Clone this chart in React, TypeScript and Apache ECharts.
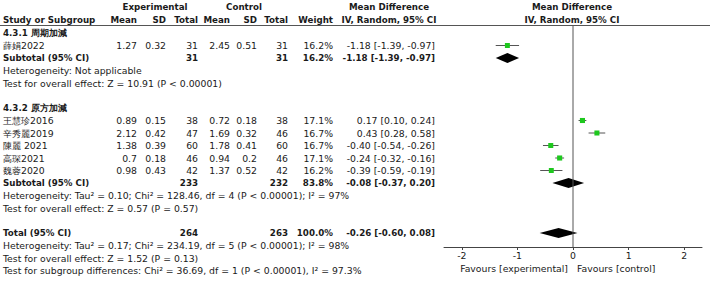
import React, { useEffect, useRef } from "react";
import * as echarts from "echarts";

// ---------- data ----------
const subgroupTitles = ["4.3.1 周期加減", "4.3.2 原方加減"];
const subgroupStudies = [[0], [1, 2, 3, 4, 5]];

const studyNames = ["薛娟2022", "王慧珍2016", "辛秀麗2019", "陳麗 2021", "高琛2021", "魏蓉2020"];
const expMean = ["1.27", "0.89", "2.12", "1.38", "0.7", "0.98"];
const expSD = ["0.32", "0.15", "0.42", "0.39", "0.18", "0.43"];
const expN = [31, 38, 47, 60, 46, 42];
const ctlMean = ["2.45", "0.72", "1.69", "1.78", "0.94", "1.37"];
const ctlSD = ["0.51", "0.18", "0.32", "0.41", "0.2", "0.52"];
const ctlN = [31, 38, 46, 60, 46, 42];
const weights = [16.2, 17.1, 16.7, 16.7, 17.1, 16.2];
const md = [-1.18, 0.17, 0.43, -0.4, -0.24, -0.39];
const mdLo = [-1.39, 0.1, 0.28, -0.54, -0.32, -0.59];
const mdHi = [-0.97, 0.24, 0.58, -0.26, -0.16, -0.19];

const subExpN = [31, 233];
const subCtlN = [31, 232];
const subWeight = [16.2, 83.8];
const subMd = [-1.18, -0.08];
const subLo = [-1.39, -0.37];
const subHi = [-0.97, 0.2];
const subHet = [
  "Heterogeneity: Not applicable",
  "Heterogeneity: Tau² = 0.10; Chi² = 128.46, df = 4 (P < 0.00001); I² = 97%",
];
const subOverall = [
  "Test for overall effect: Z = 10.91 (P < 0.00001)",
  "Test for overall effect: Z = 0.57 (P = 0.57)",
];

const totalExpN = 264;
const totalCtlN = 263;
const totalWeight = 100.0;
const totalMd = -0.26;
const totalLo = -0.6;
const totalHi = 0.08;
const totalNotes = [
  "Heterogeneity: Tau² = 0.17; Chi² = 234.19, df = 5 (P < 0.00001); I² = 98%",
  "Test for overall effect: Z = 1.52 (P = 0.13)",
  "Test for subgroup differences: Chi² = 36.69, df = 1 (P < 0.00001), I² = 97.3%",
];

const xTicks = [-2, -1, 0, 1, 2];

// ---------- layout ----------
const W = 710;
const H = 281;
const ROW0 = 33;
const ROWH = 12.5;
const GRID_TOP = 26;
const GRID_BOTTOM = 247;
const rowY = (r: number) => ROW0 + ROWH * r;
const FONT = "DejaVu Sans";
const FS = 9.3;
const FSB = 8.7;
const TXT = "#1a1a1a";

const COL = {
  name: 3,
  eMean: 137,
  eSD: 166,
  eN: 198,
  cMean: 230,
  cSD: 257,
  cN: 288,
  weight: 333,
  ci: 435,
};

const f2 = (v: number) => (v < 0 ? "-" : "") + Math.abs(v).toFixed(2);
const ciText = (m: number, l: number, h: number) => `${f2(m)} [${f2(l)}, ${f2(h)}]`;

export default function App() {
  const ref = useRef<HTMLDivElement>(null);

  useEffect(() => {
    document.body.style.margin = "0";
    if (!ref.current) return;
    const chart = echarts.init(ref.current, null, { renderer: "svg" });

    const texts: any[] = [];
    const t = (text: string, x: number, y: number, align = "left", bold = false) =>
      texts.push({
        type: "text",
        silent: true,
        style: {
          text,
          x,
          y,
          align,
          verticalAlign: "middle",
          fontSize: bold ? FSB : FS,
          fontFamily: FONT,
          fontWeight: bold ? "bold" : "normal",
          fill: TXT,
        },
      });

    // headers
    t("Experimental", 155, 7, "center", true);
    t("Control", 244, 7, "center", true);
    t("Mean Difference", 389, 7, "center", true);
    t("Mean Difference", 572, 7, "center", true);
    t("Study or Subgroup", COL.name, 19.5, "left", true);
    t("Mean", COL.eMean, 19.5, "right", true);
    t("SD", COL.eSD, 19.5, "right", true);
    t("Total", COL.eN, 19.5, "right", true);
    t("Mean", COL.cMean, 19.5, "right", true);
    t("SD", COL.cSD, 19.5, "right", true);
    t("Total", COL.cN, 19.5, "right", true);
    t("Weight", COL.weight, 19.5, "right", true);
    t("IV, Random, 95% CI", 389, 19.5, "center", true);
    t("IV, Random, 95% CI", 572, 19.5, "center", true);

    const marks: any[] = [];
    let r = 0;
    subgroupTitles.forEach((title, g) => {
      t(title, COL.name, rowY(r), "left", true);
      r++;
      subgroupStudies[g].forEach((i) => {
        const y = rowY(r);
        t(studyNames[i], COL.name, y);
        t(expMean[i], COL.eMean, y, "right");
        t(expSD[i], COL.eSD, y, "right");
        t(String(expN[i]), COL.eN, y, "right");
        t(ctlMean[i], COL.cMean, y, "right");
        t(ctlSD[i], COL.cSD, y, "right");
        t(String(ctlN[i]), COL.cN, y, "right");
        t(weights[i].toFixed(1) + "%", COL.weight, y, "right");
        t(ciText(md[i], mdLo[i], mdHi[i]), COL.ci, y, "right");
        marks.push([r, md[i], mdLo[i], mdHi[i], weights[i], 0]);
        r++;
      });
      const y = rowY(r);
      t("Subtotal (95% CI)", COL.name, y, "left", true);
      t(String(subExpN[g]), COL.eN, y, "right", true);
      t(String(subCtlN[g]), COL.cN, y, "right", true);
      t(subWeight[g].toFixed(1) + "%", COL.weight, y, "right", true);
      t(ciText(subMd[g], subLo[g], subHi[g]), COL.ci, y, "right", true);
      marks.push([r, subMd[g], subLo[g], subHi[g], subWeight[g], 1]);
      r++;
      t(subHet[g], COL.name, rowY(r));
      r++;
      t(subOverall[g], COL.name, rowY(r));
      r++;
      r++; // blank row
    });
    {
      const y = rowY(r);
      t("Total (95% CI)", COL.name, y, "left", true);
      t(String(totalExpN), COL.eN, y, "right", true);
      t(String(totalCtlN), COL.cN, y, "right", true);
      t(totalWeight.toFixed(1) + "%", COL.weight, y, "right", true);
      t(ciText(totalMd, totalLo, totalHi), COL.ci, y, "right", true);
      marks.push([r, totalMd, totalLo, totalHi, totalWeight, 1]);
      r++;
      totalNotes.forEach((n) => {
        t(n, COL.name, rowY(r));
        r++;
      });
    }

    t("Favours [experimental]", 568, 268, "right");
    t("Favours [control]", 577, 268, "left");

    const yMin = (GRID_TOP - ROW0) / ROWH;
    const yMax = (GRID_BOTTOM - ROW0) / ROWH;

    chart.setOption({
      animation: false,
      grid: { left: 444, right: W - 702, top: GRID_TOP, bottom: H - GRID_BOTTOM },
      xAxis: {
        type: "value",
        min: -2.32,
        max: 2.32,
        splitLine: { show: false },
        axisLine: { show: true, onZero: false, lineStyle: { color: "#444", width: 1 } },
        axisTick: { show: true, customValues: xTicks, length: 3, lineStyle: { color: "#444" } },
        axisLabel: {
          customValues: xTicks,
          formatter: (v: number) => String(v),
          fontSize: FS,
          fontFamily: FONT,
          color: TXT,
          margin: 4,
        },
      },
      yAxis: {
        type: "value",
        inverse: true,
        min: yMin,
        max: yMax,
        show: false,
      },
      graphic: [
        {
          type: "line",
          silent: true,
          shape: { x1: 0, y1: 25.5, x2: W, y2: 25.5 },
          style: { stroke: "#555", lineWidth: 1 },
        },
        ...texts,
      ],
      series: [
        {
          type: "line",
          data: [
            [0, yMin],
            [0, yMax],
          ],
          symbol: "none",
          lineStyle: { color: "#555", width: 1 },
          silent: true,
        },
        {
          type: "custom",
          silent: true,
          data: marks,
          encode: { x: [1, 2, 3], y: 0 },
          renderItem: (params: any, api: any) => {
            const row = api.value(0);
            const m = api.value(1);
            const lo = api.value(2);
            const hi = api.value(3);
            const w = api.value(4);
            const kind = api.value(5);
            const c = api.coord([m, row]);
            const l = api.coord([lo, row]);
            const h = api.coord([hi, row]);
            if (kind === 0) {
              const s = 5 * Math.sqrt(w / 16.5);
              return {
                type: "group",
                children: [
                  {
                    type: "line",
                    shape: { x1: l[0], y1: c[1], x2: h[0], y2: c[1] },
                    style: { stroke: "#555", lineWidth: 1 },
                  },
                  {
                    type: "rect",
                    shape: { x: c[0] - s / 2, y: c[1] - s / 2, width: s, height: s },
                    style: { fill: "#1ec81e" },
                  },
                ],
              };
            }
            return {
              type: "polygon",
              shape: {
                points: [
                  [l[0], c[1]],
                  [c[0], c[1] - 5],
                  [h[0], c[1]],
                  [c[0], c[1] + 5],
                ],
              },
              style: { fill: "#000" },
            };
          },
        },
      ],
    });

    return () => chart.dispose();
  }, []);

  return <div ref={ref} style={{ width: W, height: H }} />;
}
